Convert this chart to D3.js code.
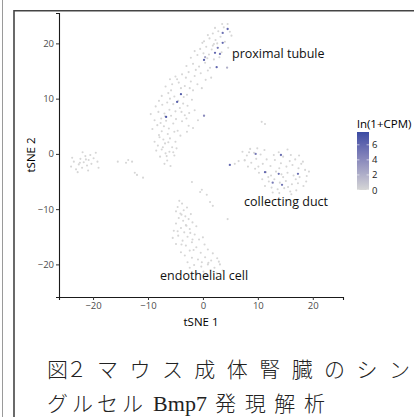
<!DOCTYPE html>
<html>
<head>
<meta charset="utf-8">
<script src="https://cdn.jsdelivr.net/npm/d3@7"></script>
<style>
  body { margin: 0; background: #fff; }
  svg { display: block; }
</style>
</head>
<body>
<svg id="chart" width="414" height="417"></svg>
<script>
// tSNE coordinates, [tSNE1, tSNE2]
var proximalCells = [
  [-8.2,1.5],[-7.5,0.8],[-6.9,1.9],[-6.1,0.4],[-7.8,-0.5],[-6.5,-1.2],[-5.6,1.2],[-7.2,2.6],[-6.0,2.8],[-8.8,2.2],
  [-5.2,-0.3],[-6.8,0.1],[-7.0,-1.8],[-5.9,-2.2],[-8.0,3.4],[-6.4,3.6],[-5.0,2.2],[-7.5,4.1],
  [-9.2,4.5],[-8.3,5.2],[-7.1,5.0],[-6.2,4.6],[-5.4,5.5],[-4.6,4.2],[-8.8,6.1],[-7.6,6.4],[-6.7,6.0],[-5.8,6.9],
  [-4.9,6.3],[-3.8,5.9],[-9.5,7.2],[-8.1,7.6],[-7.0,7.3],[-6.1,8.0],[-5.0,7.7],[-4.2,8.3],[-3.3,7.0],[-2.5,7.4],
  [-8.6,8.6],[-7.4,8.9],[-6.5,9.3],[-5.4,9.0],[-4.5,9.6],[-3.6,9.1],[-2.8,8.7],[-7.9,3.0],[-4.1,3.3],[-3.0,6.4],
  [-1.5,7.9],[-2.0,9.8],[-1.8,4.7],[-0.9,6.1],[-2.6,5.1],
  [-7.5,10.5],[-6.3,11.0],[-5.2,10.4],[-4.0,11.9],[-2.9,10.7],[-1.8,11.5],[-6.8,12.2],[-5.6,12.6],[-4.4,12.9],
  [-3.3,12.3],[-2.2,13.1],[-1.0,12.6],[-5.0,14.0],[-3.8,14.4],[-2.6,14.8],[-1.5,14.1],[-0.4,14.6],[0.5,13.4],[-6.0,13.5],
  [-3.0,15.9],[-1.8,16.3],[-0.7,15.8],[0.4,16.5],[1.3,15.6],[-2.2,17.4],[-1.0,17.9],[0.1,18.2],[1.1,18.0],[2.0,17.1],
  [-0.5,19.0],[0.6,19.4],[1.6,18.9],[2.6,20.0],[3.4,18.4],[-1.5,18.6],
  [0.2,20.4],[1.2,20.9],[2.3,20.6],[3.2,21.2],[4.0,20.3],[1.8,21.8],[2.8,22.2],[3.8,22.9],[4.5,23.5],[4.9,22.1],
  [3.5,23.5],[0.9,21.5],[2.0,19.9],[4.6,19.2],[5.2,21.4],
  [-7.3,1.2],[-6.3,2.1],[-5.4,0.3],[-8.5,0.6],[-4.8,1.0],[-7.7,5.6],[-6.9,6.8],[-5.2,4.0],[-3.9,7.6],[-8.0,9.6],
  [-6.0,10.0],[-3.5,10.3],[-2.4,11.9],[-5.8,11.5],[-4.7,13.5],[-0.2,11.9],[0.9,15.1],[-1.3,15.2],[0.8,17.3],[1.8,19.6],
  [3.0,17.5],[2.2,22.8],[1.5,13.8],[-2.9,4.0],[-6.6,-0.4],[-3.1,13.8],[-0.1,20.1]
];
var leftCells = [
  [-24.0,-2.3],[-23.5,-1.4],[-23.1,-2.8],[-22.6,-1.9],[-22.3,-0.9],[-22.0,-2.5],[-21.7,-1.5],[-21.4,-0.4],[-21.1,-2.1],
  [-20.8,-1.1],[-20.5,-0.2],[-20.3,-1.8],[-19.9,-0.8],[-19.5,0.2],[-19.2,-1.4],[-22.8,-3.3],[-21.9,0.3],[-20.9,-3.0],
  [-23.8,-0.7],[-19.0,-2.5],[-21.3,-1.0],[-22.4,-1.6],
  [-15.5,-1.4],[-14.0,-1.6],[-12.9,-1.4],[-13.6,-1.1],[-12.4,-3.4],[-10.9,-4.3],[-12.0,-3.8]
];
var endothelialCells = [
  [-4.3,-8.5],[-3.8,-9.0],[-4.6,-9.6],[-3.5,-10.2],[-4.1,-10.8],[-2.9,-9.7],[-4.9,-10.4],[-3.2,-11.3],
  [-4.4,-11.6],[-3.6,-12.1],[-2.6,-11.8],[-4.9,-12.6],[-3.1,-12.9],[-1.9,-12.4],[-4.0,-13.4],[-2.4,-13.6],[-5.3,-13.9],
  [-1.2,-13.1],[-3.4,-14.2],
  [-4.5,-14.8],[-2.8,-15.0],[-1.5,-14.6],[-3.7,-15.7],[-2.0,-16.0],[-0.7,-15.5],[-4.9,-16.3],[-3.1,-16.6],[-1.2,-16.9],
  [0.3,-16.4],[-2.4,-17.5],[-4.0,-17.8],[-0.4,-17.9],[0.9,-17.3],[1.8,-18.0],[-5.5,-15.2],[-3.3,-18.4],
  [-2.0,-18.8],[-0.9,-19.1],[0.4,-18.7],[1.5,-19.3],[2.6,-18.9],[-1.6,-20.1],[-0.3,-20.4],[0.9,-20.0],[2.1,-20.6],
  [3.1,-20.0],[-2.8,-19.6],[0.1,-21.3],[1.4,-21.0],[2.5,-21.6],[3.6,-21.1],[1.0,-19.7],[-1.1,-21.6],
  [-3.9,-11.0],[-2.2,-10.9],[-4.6,-14.0],[-2.3,-14.3],[-3.9,-16.4],[-1.7,-17.4],[0.0,-15.1],[-0.2,-19.6],[1.9,-21.3],
  [2.9,-19.5],[-2.4,-20.6],[0.6,-21.9],[-1.9,-15.5],[-3.0,-13.0],
  [-2.0,-5.1],[-0.5,-6.9],[0.7,-7.4],[1.3,-8.7],[1.8,-9.4],[4.5,-11.8],[-0.2,-6.5]
];
var collectingCells = [
  [7.2,0.4],[8.0,-0.3],[8.6,0.9],[9.3,0.2],[9.9,1.0],[7.6,-1.2],[8.8,-1.6],[9.7,-0.9],[10.5,-0.1],[11.2,0.7],
  [10.9,-1.8],[11.6,-1.0],[8.2,-2.3],[9.5,-2.7],
  [12.3,-2.2],[13.1,-1.1],[13.8,0.3],[14.6,-0.5],[15.4,0.8],[16.0,-0.2],[16.8,-1.0],[17.5,-0.3],[18.2,-1.4],
  [14.2,-1.7],[15.2,-2.3],[16.3,-2.0],[17.4,-2.6],[18.6,-2.9],
  [11.5,-3.3],[12.4,-3.9],[13.3,-3.2],[14.3,-3.7],[15.4,-3.4],[16.5,-3.9],[17.6,-4.2],[18.9,-4.0],[10.8,-4.6],
  [12.0,-5.0],[13.0,-4.6],[14.0,-5.2],[15.1,-4.9],[16.2,-5.5],[17.3,-5.3],[18.3,-5.8],[12.5,-6.1],[13.6,-6.4],
  [14.8,-6.2],[15.9,-6.8],[17.0,-6.6],[11.3,-5.8],[10.2,-3.4],[13.9,-7.1],[19.3,-3.2],[16.1,-7.3],
  [8.4,0.3],[10.1,-2.3],[12.9,-0.2],[15.8,-1.3],[17.9,-1.8],[13.9,-2.6],[16.9,-4.6],[14.6,-4.2],[11.9,-4.2],
  [15.5,-6.0],[18.8,-5.0],[12.7,-7.0],
  [5.8,-1.8],[6.5,-1.3],[7.6,-1.1],[10.7,5.8],[11.3,5.4]
];
// cells with Bmp7 signal, [tSNE1, tSNE2, ln(1+CPM)]
var bmp7Cells = [
  [4.5,22.6,6],[3.6,21.9,5.5],[3.6,20.1,6],[2.7,19.2,5],[2.2,18.3,6],[3.1,18.1,5],[2.5,15.7,6],[0.2,17.0,6.5],
  [-4.0,10.8,6.5],[-4.7,9.4,6.5],[-6.7,6.7,7],[0.2,6.9,4],[0.4,17.5,2.5],[4.4,15.6,2],
  [4.9,-2.0,6],[9.6,0.0,5],[14.2,-0.2,5.5],[11.3,-3.3,6],[13.8,-3.6,5.5],[17.3,-3.6,5.5],[12.7,-5.2,5],[14.4,-5.6,5.5]
];
var xTicks = [-20, -10, 0, 10, 20];
var yTicks = [-20, -10, 0, 10, 20];
var legendTicks = [0, 2, 4, 6];
var clusterLabels = [
  {name: "proximal tubule", x: 5.3, y: 17.4},
  {name: "collecting duct", x: 7.5, y: -9.5},
  {name: "endothelial cell", x: -7.8, y: -22.9}
];
// caption as printed, split into its typeset runs
var captionLine1 = ["図２", "マウス成体腎臓のシン"];
var captionLine2 = ["グルセル", "Bmp7", "発現解析"];

var svg = d3.select("#chart");

// scanned page frame
svg.append("line").attr("x1", 2.5).attr("x2", 2.5).attr("y1", 0).attr("y2", 417)
  .attr("stroke", "#9a9a9a").attr("stroke-width", 1);
svg.append("line").attr("x1", 14).attr("x2", 14).attr("y1", 10).attr("y2", 417)
  .attr("stroke", "#444").attr("stroke-width", 1.6);
svg.append("line").attr("x1", 14).attr("x2", 414).attr("y1", 10.8).attr("y2", 10.8)
  .attr("stroke", "#444").attr("stroke-width", 1.6);

var x = d3.scaleLinear().domain([-26.2, 25.5]).range([59, 343]);
var y = d3.scaleLinear().domain([-25.9, 25.5]).range([297, 13]);
var color = d3.scaleLinear().domain([0, 7.7]).range(["#d6d6d6", "#3a4ba3"])
  .interpolate(d3.interpolateLab);

var gray = [].concat(proximalCells, leftCells, endothelialCells, collectingCells);
svg.append("g").selectAll("circle")
  .data(gray)
  .enter().append("circle")
  .attr("cx", function(d) { return x(d[0]); })
  .attr("cy", function(d) { return y(d[1]); })
  .attr("r", 1.05)
  .attr("fill", color(0));

svg.append("g").selectAll("circle")
  .data(bmp7Cells.slice().sort(function(a, b) { return a[2] - b[2]; }))
  .enter().append("circle")
  .attr("cx", function(d) { return x(d[0]); })
  .attr("cy", function(d) { return y(d[1]); })
  .attr("r", 1.15)
  .attr("fill", function(d) { return color(d[2]); });

// axes
var xAxis = svg.append("g").attr("transform", "translate(0,297)")
  .call(d3.axisBottom(x).tickValues(xTicks).tickSize(3).tickPadding(2));
var yAxis = svg.append("g").attr("transform", "translate(59,0)")
  .call(d3.axisLeft(y).tickValues(yTicks).tickSize(3).tickPadding(2));
[xAxis, yAxis].forEach(function(a) {
  a.select(".domain").attr("stroke", "#1a1a1a").attr("stroke-width", 1.1);
  a.selectAll(".tick line").attr("stroke", "#333");
  a.selectAll(".tick text").attr("fill", "#4d4d4d")
    .style("font-family", "'Open Sans', sans-serif").style("font-size", "9.5px");
});

svg.append("text").attr("x", 201).attr("y", 326).attr("text-anchor", "middle")
  .style("font-family", "'Open Sans', sans-serif").style("font-size", "11.5px")
  .text("tSNE 1");
svg.append("text").attr("transform", "translate(35,155) rotate(-90)").attr("text-anchor", "middle")
  .style("font-family", "'Open Sans', sans-serif").style("font-size", "11.5px")
  .text("tSNE 2");

// cluster names
svg.append("g").selectAll("text")
  .data(clusterLabels)
  .enter().append("text")
  .attr("x", function(d) { return x(d.x); })
  .attr("y", function(d) { return y(d.y); })
  .style("font-family", "'Open Sans', sans-serif").style("font-size", "12.5px")
  .attr("fill", "#111")
  .text(function(d) { return d.name; });

// colour bar legend
var lg = d3.scaleLinear().domain([0, 7.7]).range([190, 132]);
var defs = svg.append("defs");
var grad = defs.append("linearGradient").attr("id", "bar")
  .attr("x1", 0).attr("x2", 0).attr("y1", 1).attr("y2", 0);
d3.range(0, 1.01, 0.1).forEach(function(t) {
  grad.append("stop").attr("offset", t).attr("stop-color", color(t * 7.7));
});
svg.append("rect").attr("x", 357).attr("y", lg(7.7)).attr("width", 12)
  .attr("height", lg(0) - lg(7.7)).attr("fill", "url(#bar)");
svg.append("g").selectAll("line")
  .data(legendTicks).enter().append("line")
  .attr("x1", 357).attr("x2", 369)
  .attr("y1", function(d) { return lg(d); }).attr("y2", function(d) { return lg(d); })
  .attr("stroke", "#fff").attr("stroke-width", 0.6).attr("stroke-dasharray", "2.4 7.2");
svg.append("g").selectAll("text")
  .data(legendTicks).enter().append("text")
  .attr("x", 372).attr("y", function(d) { return lg(d) + 3.5; })
  .style("font-family", "'Open Sans', sans-serif").style("font-size", "9.5px")
  .attr("fill", "#222")
  .text(function(d) { return d; });
svg.append("text").attr("x", 357).attr("y", 128)
  .style("font-family", "'Open Sans', sans-serif").style("font-size", "11.5px")
  .text("ln(1+CPM)");

// figure caption; first line is justified to the column like the print
var captionRuns = [
  {text: captionLine1[0], left: 47, width: 40, line: 0},
  {text: captionLine1[1], left: 97, width: 313, line: 0},
  {text: captionLine2[0], left: 47, width: 96, line: 1},
  {text: captionLine2[1], left: 153, width: 54, line: 1, latin: true},
  {text: captionLine2[2], left: 215, width: 110, line: 1}
];
svg.append("g").selectAll("text")
  .data(captionRuns).enter().append("text")
  .attr("x", function(d) { return d.left; })
  .attr("y", function(d) { return 377 + d.line * 34; })
  .attr("textLength", function(d) { return d.width; })
  .attr("lengthAdjust", "spacing")
  .style("font-family", function(d) {
    return d.latin ? "'Liberation Serif', serif" : "'Noto Sans CJK JP', sans-serif";
  })
  .style("font-size", function(d) { return d.latin ? "22px" : "21px"; })
  .style("font-weight", function(d) { return d.latin ? 400 : 300; })
  .attr("fill", "#222")
  .text(function(d) { return d.text; });
</script>
</body>
</html>
